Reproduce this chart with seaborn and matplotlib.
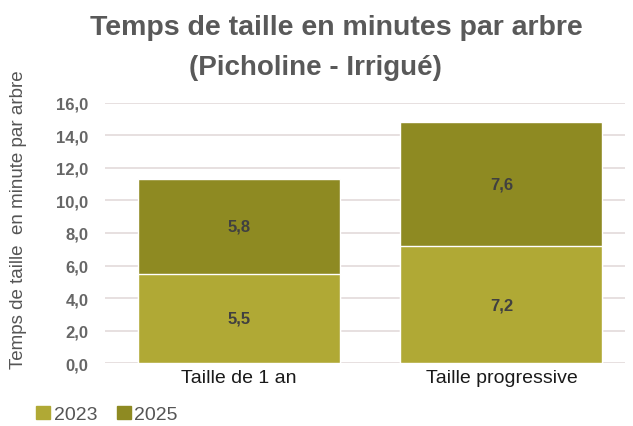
import matplotlib
matplotlib.use("Agg")
import matplotlib.pyplot as plt
import seaborn as sns
import pandas as pd
from matplotlib.patches import Patch

# Data
categories = ["Taille de 1 an", "Taille progressive"]
val_2023 = [5.5, 7.2]
val_2025 = [5.8, 7.6]
years = ["2023", "2025"]
colors = {"2023": "#B0A935", "2025": "#8E8A22"}

df = pd.DataFrame({"cat": categories, "v2023": val_2023, "v2025": val_2025})
df["total"] = df["v2023"] + df["v2025"]

sns.set_theme(style="white")
plt.rcParams["font.family"] = ["Liberation Sans", "DejaVu Sans"]

fig = plt.figure(figsize=(6.33, 4.27), dpi=100)
ax = fig.add_axes([0.166, 0.1475, 0.821, 0.609])

# stacked: draw totals, then 2023 on top of it
sns.barplot(data=df, x="cat", y="total", color=colors["2025"], width=0.77,
            saturation=1, ax=ax, zorder=2)
sns.barplot(data=df, x="cat", y="v2023", color=colors["2023"], width=0.77,
            saturation=1, ax=ax, zorder=3)

for i in range(len(categories)):
    a, b = val_2023[i], val_2025[i]
    ax.text(i, a / 2, f"{a:.1f}".replace(".", ","), ha="center", va="center",
            fontsize=12, fontweight="bold", color="#404040", zorder=4)
    ax.text(i, a + b / 2, f"{b:.1f}".replace(".", ","), ha="center", va="center",
            fontsize=12, fontweight="bold", color="#404040", zorder=4)

ax.set_ylim(0, 16)
ax.set_xlim(-0.51, 1.47)
ticks = [0, 2, 4, 6, 8, 10, 12, 14, 16]
ax.set_yticks(ticks)
ax.set_yticklabels([f"{t:.1f}".replace(".", ",") for t in ticks], fontsize=12,
                   color="#666666", fontweight="bold")
ax.tick_params(axis="y", length=0, pad=12)
ax.tick_params(axis="x", length=0, pad=4)
ax.set_xticklabels(categories, fontsize=14, color="#1a1a1a")
ax.yaxis.grid(True, color="#E3DADA", linewidth=1.2, zorder=0)
ax.set_axisbelow(True)
for s in ax.spines.values():
    s.set_visible(False)
ax.set_xlabel("")
ax.set_ylabel("Temps de taille  en minute par arbre", fontsize=13.5,
              color="#555555")
ax.yaxis.set_label_coords(-0.15, 0.555)

fig.text(0.532, 0.934, "Temps de taille en minutes par arbre", ha="center",
         va="center", fontsize=20.5, fontweight="bold", color="#595959")
fig.text(0.498, 0.84, "(Picholine - Irrigué)", ha="center", va="center",
         fontsize=20, fontweight="bold", color="#595959")

handles = [Patch(color=colors[y]) for y in years]
fig.legend(handles, years, loc="lower left", bbox_to_anchor=(0.03, -0.035),
           ncol=2, frameon=False, handlelength=0.7,
           handleheight=0.7, handletextpad=0.2, columnspacing=1.0,
           labelcolor="#555555", prop={"size": 14})

fig.savefig("out.png", dpi=100)
